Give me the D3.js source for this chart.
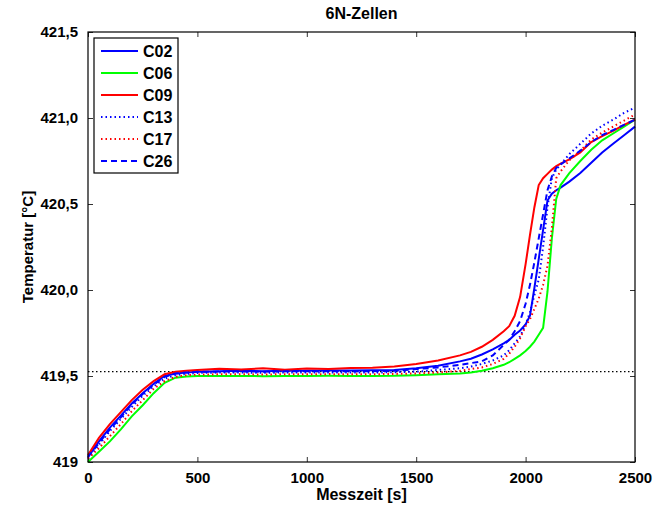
<!DOCTYPE html>
<html>
<head>
<meta charset="utf-8">
<script src="https://cdn.jsdelivr.net/npm/d3@7"></script>
<style>
  body { margin: 0; background: #fff; }
  text { font-family: "Liberation Sans", Arial, sans-serif; font-weight: bold; fill: #000; }
</style>
</head>
<body>
<svg id="chart" width="656" height="507"></svg>
<script>
// measurement times [s]
const times = [0, 50, 100, 150, 200, 250, 300, 350, 400, 450,
  500, 600, 700, 800, 900, 1000, 1100, 1200, 1300, 1400, 1500, 1600, 1700,
  1750, 1800, 1850, 1900, 1925, 1950, 1975, 2000,
  2020, 2040, 2060, 2080, 2100, 2120, 2140, 2160,
  2200, 2250, 2300, 2350, 2400, 2450, 2500];

const c02 = [419.03, 419.12, 419.20, 419.27, 419.34, 419.40, 419.455, 419.50, 419.515, 419.52,
  419.525, 419.528, 419.53, 419.528, 419.53, 419.53, 419.532, 419.532, 419.533, 419.535, 419.545, 419.56, 419.585,
  419.60, 419.625, 419.655, 419.69, 419.71, 419.74, 419.765, 419.80,
  419.85, 420.01, 420.18, 420.35, 420.52, 420.56, 420.58, 420.595,
  420.63, 420.68, 420.74, 420.80, 420.85, 420.90, 420.95];

const c06 = [419.00, 419.06, 419.12, 419.19, 419.265, 419.33, 419.40, 419.46, 419.49, 419.497,
  419.50, 419.50, 419.50, 419.499, 419.50, 419.50, 419.501, 419.50, 419.50, 419.501, 419.505, 419.51, 419.515,
  419.52, 419.53, 419.545, 419.565, 419.58, 419.60, 419.62, 419.645,
  419.67, 419.70, 419.74, 419.78, 419.99, 420.30, 420.53, 420.61,
  420.68, 420.75, 420.815, 420.87, 420.91, 420.95, 420.99];

const c09 = [419.04, 419.14, 419.22, 419.29, 419.36, 419.42, 419.47, 419.51, 419.525, 419.53,
  419.535, 419.542, 419.538, 419.545, 419.537, 419.543, 419.541, 419.546, 419.548, 419.555, 419.57, 419.59, 419.62,
  419.64, 419.67, 419.71, 419.76, 419.79, 419.85, 419.96, 420.15,
  420.32, 420.48, 420.61, 420.65, 420.675, 420.70, 420.72, 420.735,
  420.76, 420.80, 420.86, 420.895, 420.925, 420.96, 420.99];

const c13 = [419.02, 419.10, 419.18, 419.25, 419.32, 419.385, 419.44, 419.485, 419.505, 419.512,
  419.518, 419.52, 419.52, 419.519, 419.52, 419.52, 419.52, 419.521, 419.52, 419.522, 419.525, 419.535, 419.545,
  419.555, 419.57, 419.59, 419.62, 419.65, 419.69, 419.73, 419.80,
  419.87, 419.97, 420.06, 420.25, 420.48, 420.65, 420.70, 420.73,
  420.79, 420.85, 420.91, 420.955, 420.99, 421.03, 421.06];

const c17 = [419.02, 419.08, 419.15, 419.22, 419.295, 419.36, 419.425, 419.47, 419.495, 419.505,
  419.508, 419.51, 419.51, 419.509, 419.51, 419.51, 419.511, 419.51, 419.51, 419.512, 419.515, 419.52, 419.53,
  419.54, 419.55, 419.57, 419.60, 419.63, 419.67, 419.72, 419.79,
  419.83, 419.89, 419.95, 420.03, 420.14, 420.36, 420.65, 420.69,
  420.755, 420.81, 420.875, 420.915, 420.95, 420.985, 421.02];

const c26 = [419.03, 419.11, 419.19, 419.26, 419.335, 419.395, 419.45, 419.495, 419.515, 419.52,
  419.524, 419.526, 419.527, 419.525, 419.527, 419.527, 419.528, 419.527, 419.528, 419.53, 419.54, 419.55, 419.565,
  419.575, 419.585, 419.62, 419.68, 419.71, 419.76, 419.82, 419.92,
  420.03, 420.16, 420.30, 420.44, 420.58, 420.66, 420.71, 420.73,
  420.765, 420.81, 420.86, 420.90, 420.93, 420.96, 420.99];

const seriesNames = ["C02", "C06", "C09", "C13", "C17", "C26"];
const seriesValues = [c02, c06, c09, c13, c17, c26];
const refLevel = 419.525; // dotted reference line

const xTicks = [0, 500, 1000, 1500, 2000, 2500];
const yTicks = [419, 419.5, 420, 420.5, 421, 421.5];
const yTickLabels = ["419", "419,5", "420,0", "420,5", "421,0", "421,5"];

(function() {
	const colors = ["#0000ff", "#00ff00", "#ff0000", "#0000ff", "#ff0000", "#0000ff"];
	const dashes = [null, null, null, "1.5,3", "1.5,3", "6,4"];

	let svg = d3.select("#chart"),
		left = 88, right = 635, top = 32, bottom = 462;

	let x = d3.scaleLinear().domain([0, 2500]).range([left, right]);
	let y = d3.scaleLinear().domain([419, 421.5]).range([bottom, top]);

	// title and axis labels
	svg.append("text")
		.attr("x", (left + right) / 2)
		.attr("y", 19)
		.attr("text-anchor", "middle")
		.style("font-size", "16px")
		.text("6N-Zellen");

	svg.append("text")
		.attr("x", (left + right) / 2)
		.attr("y", 500)
		.attr("text-anchor", "middle")
		.style("font-size", "16px")
		.text("Messzeit [s]");

	svg.append("text")
		.attr("transform", "translate(33," + (top + bottom) / 2 + ") rotate(-90)")
		.attr("text-anchor", "middle")
		.style("font-size", "15px")
		.text("Temperatur [°C]");

	// axes, ticks pointing inwards like matlab
	let xAxis = d3.axisBottom(x).tickValues(xTicks).tickSizeInner(-5).tickSizeOuter(0).tickPadding(10)
		.tickFormat(d3.format("d"));
	let yAxis = d3.axisLeft(y).tickValues(yTicks).tickSizeInner(-5).tickSizeOuter(0).tickPadding(10)
		.tickFormat((d, i) => yTickLabels[i]);

	let gx = svg.append("g").attr("transform", "translate(0," + bottom + ")").call(xAxis);
	let gy = svg.append("g").attr("transform", "translate(" + left + ",0)").call(yAxis);
	svg.append("g").attr("transform", "translate(0," + top + ")")
		.call(d3.axisTop(x).tickValues(xTicks).tickSizeInner(-5).tickSizeOuter(0).tickFormat(""));
	svg.append("g").attr("transform", "translate(" + right + ",0)")
		.call(d3.axisRight(y).tickValues(yTicks).tickSizeInner(-5).tickSizeOuter(0).tickFormat(""));

	svg.selectAll(".domain").remove();
	svg.selectAll(".tick line").attr("stroke", "#333");
	svg.selectAll(".tick text").style("font-size", "15px").style("font-family", "Liberation Sans, Arial, sans-serif");
	gx.selectAll(".tick text").attr("dy", "0.71em");

	// reference line
	svg.append("line")
		.attr("x1", left).attr("x2", right)
		.attr("y1", y(refLevel)).attr("y2", y(refLevel))
		.attr("stroke", "#000")
		.attr("stroke-width", 1.3)
		.attr("stroke-dasharray", "1.5,2.5");

	let line = d3.line()
		.x((d, i) => x(times[i]))
		.y(d => y(d));

	seriesValues.forEach(function(vals, k) {
		svg.append("path")
			.datum(vals)
			.attr("fill", "none")
			.attr("stroke", colors[k])
			.attr("stroke-width", 2)
			.attr("stroke-dasharray", dashes[k])
			.attr("d", line);
	});

	// frame
	svg.append("rect")
		.attr("x", left).attr("y", top)
		.attr("width", right - left).attr("height", bottom - top)
		.attr("fill", "none")
		.attr("stroke", "#000")
		.attr("stroke-width", 1.2);

	// legend
	let legend = svg.append("g");
	legend.append("rect")
		.attr("x", 94).attr("y", 38)
		.attr("width", 84).attr("height", 135)
		.attr("fill", "#fff")
		.attr("stroke", "#000")
		.attr("stroke-width", 1.2);

	seriesNames.forEach(function(name, k) {
		let ly = 51 + k * 22;
		legend.append("line")
			.attr("x1", 101).attr("x2", 138)
			.attr("y1", ly).attr("y2", ly)
			.attr("stroke", colors[k])
			.attr("stroke-width", 2)
			.attr("stroke-dasharray", dashes[k]);
		legend.append("text")
			.attr("x", 143)
			.attr("y", ly + 6)
			.style("font-size", "16px")
			.text(name);
	});
})();
</script>
</body>
</html>
